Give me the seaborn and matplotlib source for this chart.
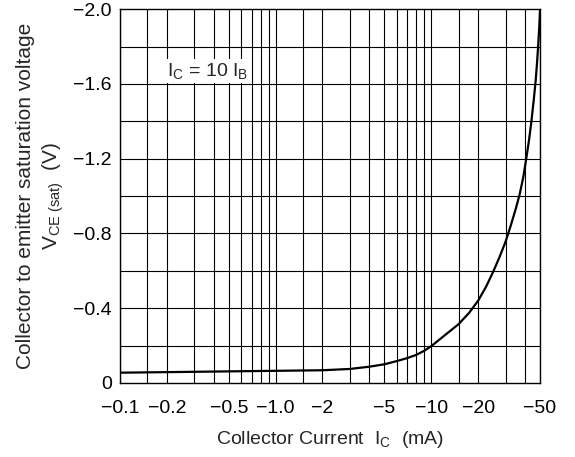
import matplotlib
matplotlib.use("Agg")
import matplotlib.pyplot as plt
import seaborn as sns
import pandas as pd

# Collector current magnitude (mA) and V_CE(sat) magnitude (V), both negative on the chart
ic_ma = [0.1, 0.2, 0.5, 1.0, 2.0, 3.0, 4.0, 5.0, 6.0, 7.0, 8.0, 9.0, 10.0, 12.0, 15.0, 17.5,
         20.0, 22.5, 25.0, 27.5, 30.0, 32.5, 35.0, 37.0, 39.0, 40.6, 42.5, 44.0, 45.5, 46.9,
         47.8, 48.6, 49.4, 50.0]
vce_sat = [0.055, 0.058, 0.062, 0.065, 0.068, 0.075, 0.087, 0.10, 0.117, 0.133, 0.15, 0.172, 0.197, 0.25, 0.315, 0.375,
           0.44, 0.515, 0.595, 0.675, 0.755, 0.845, 0.935, 1.01, 1.1, 1.19, 1.3, 1.4, 1.51, 1.62,
           1.71, 1.8, 1.9, 2.0]

x_ticks = [0.1, 0.2, 0.5, 1.0, 2, 5, 10, 20, 50]
x_tick_labels = ["\u22120.1", "\u22120.2", "\u22120.5", "\u22121.0", "\u22122", "\u22125", "\u221210", "\u221220", "\u221250"]
x_grid = [0.1, 0.15, 0.2, 0.3, 0.4, 0.5, 0.6, 0.7, 0.8, 0.9, 1.0, 1.5, 2, 3, 4, 5, 6, 7, 8, 9, 10, 15, 20, 30, 40, 50]
y_ticks = [0, 0.4, 0.8, 1.2, 1.6, 2.0]
y_tick_labels = ["0", "\u22120.4", "\u22120.8", "\u22121.2", "\u22121.6", "\u22122.0"]
y_grid = [0.2, 0.4, 0.6, 0.8, 1.0, 1.2, 1.4, 1.6, 1.8]

df = pd.DataFrame({"Ic": ic_ma, "Vce": vce_sat})

sns.set_style("white")
plt.rcParams["font.family"] = ["Liberation Sans", "DejaVu Sans"]
plt.rcParams["mathtext.fontset"] = "custom"
plt.rcParams["mathtext.rm"] = "Liberation Sans"
plt.rcParams["mathtext.it"] = "Liberation Sans"

fig = plt.figure(figsize=(5.75, 4.57), dpi=100)
ax = fig.add_axes([0.2087, 0.162, 0.7305, 0.818])

# grid lines
for g in x_grid:
    ax.axvline(g, color="black", lw=0.8, zorder=1)
for g in y_grid:
    ax.axhline(g, color="black", lw=0.8, zorder=1)

sns.lineplot(data=df, x="Ic", y="Vce", color="black", lw=1.6, ax=ax, zorder=3)

ax.set_xscale("log")
ax.set_xlim(0.1, 50)
ax.set_ylim(0, 2.0)
ax.minorticks_off()
ax.set_xticks(x_ticks)
ax.set_xticklabels(x_tick_labels)
ax.set_yticks(y_ticks)
ax.set_yticklabels(y_tick_labels)
ax.tick_params(axis="y", length=0, labelsize=14, pad=6, colors="black")
ax.tick_params(axis="x", length=0, labelsize=14, pad=12, colors="black")

for s in ax.spines.values():
    s.set_color("black")
    s.set_linewidth(1.0)

ax.set_xlabel("Collector Current  I$_\\mathregular{C}$  (mA)", fontsize=14, labelpad=9)
ax.set_ylabel("Collector to emitter saturation voltage\nV$_\\mathregular{CE\\ (sat)}$  (V)",
              fontsize=15, labelpad=5, linespacing=1.3)

ax.text(0.2, 1.67, "I$_\\mathregular{C}$ = 10 I$_\\mathregular{B}$", fontsize=14, va="center", ha="left",
        bbox=dict(facecolor="white", edgecolor="none", pad=1.5), zorder=4)

fig.savefig("out.png", dpi=100)
